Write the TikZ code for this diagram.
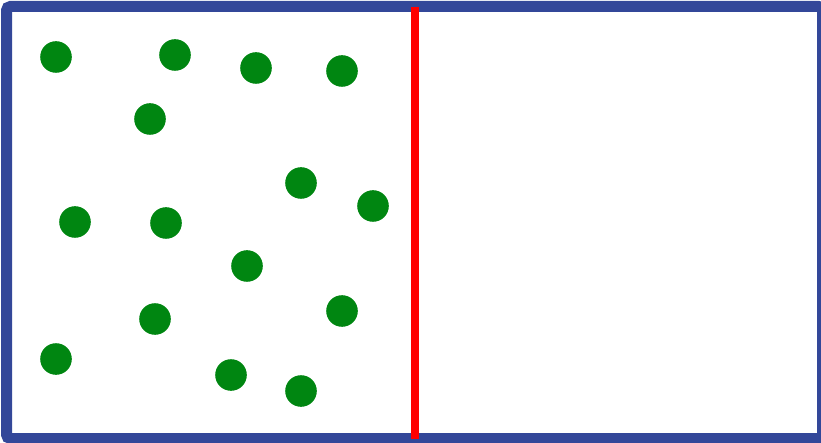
\documentclass[tikz,border=0pt]{standalone}
\usepackage{tikz}
\definecolor{boxblue}{RGB}{51,71,153}
\definecolor{gasgreen}{RGB}{0,134,17}

\begin{document}
\begin{tikzpicture}[x=1pt,y=-1pt]
  \useasboundingbox (0,0) rectangle (821,443);
  \clip (0,0) rectangle (821,443);
  \draw[boxblue,line width=11pt,rounded corners=4pt] (6.5,6.5) rectangle (822.5,438.5);
  \foreach \x/\y in {56/57,175/55,256/68,342/71,150/119,301/183,373/206,75/222,
                     166/223,247/266,342/311,155/319,56/359,231/375,301/391}
    \fill[gasgreen] (\x,\y) circle (15.8);
  \draw[red,line width=8pt] (415,7) -- (415,439);
\end{tikzpicture}
\end{document}
